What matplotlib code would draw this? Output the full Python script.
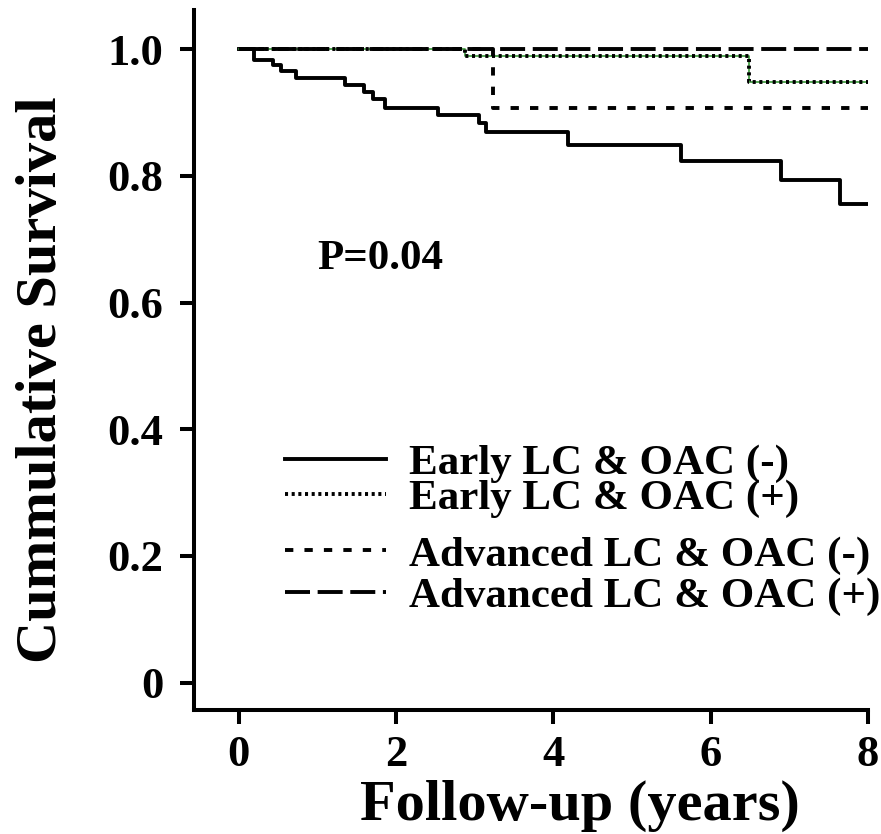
import numpy as np
import matplotlib
matplotlib.use("Agg")
import matplotlib.pyplot as plt

# Kaplan-Meier style step curves (years, survival)
early_neg_t = [0, 0.19, 0.44, 0.54, 0.73, 1.35, 1.60, 1.71, 1.86, 2.54,
               3.05, 3.15, 4.19, 5.63, 6.90, 7.65, 8.0]
early_neg_s = [1.0, 0.983, 0.975, 0.966, 0.955, 0.944, 0.933, 0.922, 0.908,
               0.896, 0.883, 0.869, 0.849, 0.824, 0.794, 0.756, 0.756]
early_pos_t = [0, 2.88, 6.49, 8.0]
early_pos_s = [1.0, 0.989, 0.949, 0.949]
adv_neg_t = [0, 3.24, 8.0]
adv_neg_s = [1.0, 0.907, 0.907]
adv_pos_t = [0, 8.0]
adv_pos_s = [1.0, 1.0]

labels = ["Early LC & OAC (-)", "Early LC & OAC (+)",
          "Advanced LC & OAC (-)", "Advanced LC & OAC (+)"]
x_ticks = [0, 2, 4, 6, 8]
y_ticks = [0, 0.2, 0.4, 0.6, 0.8, 1.0]
y_tick_labels = ["0", "0.2", "0.4", "0.6", "0.8", "1.0"]

plt.rcParams["font.family"] = ["Liberation Serif", "DejaVu Serif"]
plt.rcParams["font.weight"] = "bold"
plt.rcParams["lines.scale_dashes"] = False

fig = plt.figure(figsize=(8.81, 8.34), dpi=100)
ax = fig.add_axes([0.220, 0.149, 0.765, 0.839])

lw = 2.8
h1, = ax.step(early_neg_t, early_neg_s, where="post", color="black",
              lw=lw, linestyle="-", label=labels[0])
ax.step(early_pos_t, early_pos_s, where="post", color="#3a9a3a", lw=1.2)
h2, = ax.step(early_pos_t, early_pos_s, where="post", color="black",
              lw=lw, linestyle=(0, (2.2, 2.6)), label=labels[1])
h3, = ax.step(adv_neg_t, adv_neg_s, where="post", color="black",
              lw=lw, linestyle=(0, (6, 8)), label=labels[2])
h4, = ax.step(adv_pos_t, adv_pos_s, where="post", color="black",
              lw=lw, linestyle=(0, (18, 5.5)), label=labels[3])

ax.set_xlim(-0.57, 8.0)
ax.set_ylim(-0.043, 1.062)
ax.set_xticks(x_ticks)
ax.set_xticklabels([str(t) for t in x_ticks])
ax.set_yticks(y_ticks)
ax.set_yticklabels(y_tick_labels)

for side in ["top", "right"]:
    ax.spines[side].set_visible(False)
for side in ["left", "bottom"]:
    ax.spines[side].set_linewidth(2.9)
ax.tick_params(axis="both", width=2.9, length=10, labelsize=32, pad=8)
ax.tick_params(axis="y", pad=12)
for lab in ax.get_xticklabels() + ax.get_yticklabels():
    lab.set_fontweight("bold")

ax.set_xlabel("Follow-up (years)", fontsize=42, fontweight="bold",
              va="center", ha="center")
ax.set_ylabel("Cummulative Survival", fontsize=42, fontweight="bold",
              va="center", ha="center")
ax.xaxis.set_label_coords(0.573, -0.137)
ax.yaxis.set_label_coords(-0.226, 0.471)

ax.text(1.0, 0.669, "P=0.04", fontsize=31, fontweight="bold",
        ha="left", va="center")

leg_kw = dict(frameon=False, handlelength=2.35,
              handletextpad=0.55, borderpad=0, borderaxespad=0,
              loc="upper left", bbox_transform=fig.transFigure,
              prop={"weight": "bold", "size": 31})
leg1 = ax.legend([h1, h2], labels[:2], bbox_to_anchor=(0.323, 0.468),
                 labelspacing=-0.1, **leg_kw)
ax.add_artist(leg1)
ax.legend([h3, h4], labels[2:], bbox_to_anchor=(0.323, 0.358),
          labelspacing=0.05, **leg_kw)

fig.savefig("out.png", dpi=100)
